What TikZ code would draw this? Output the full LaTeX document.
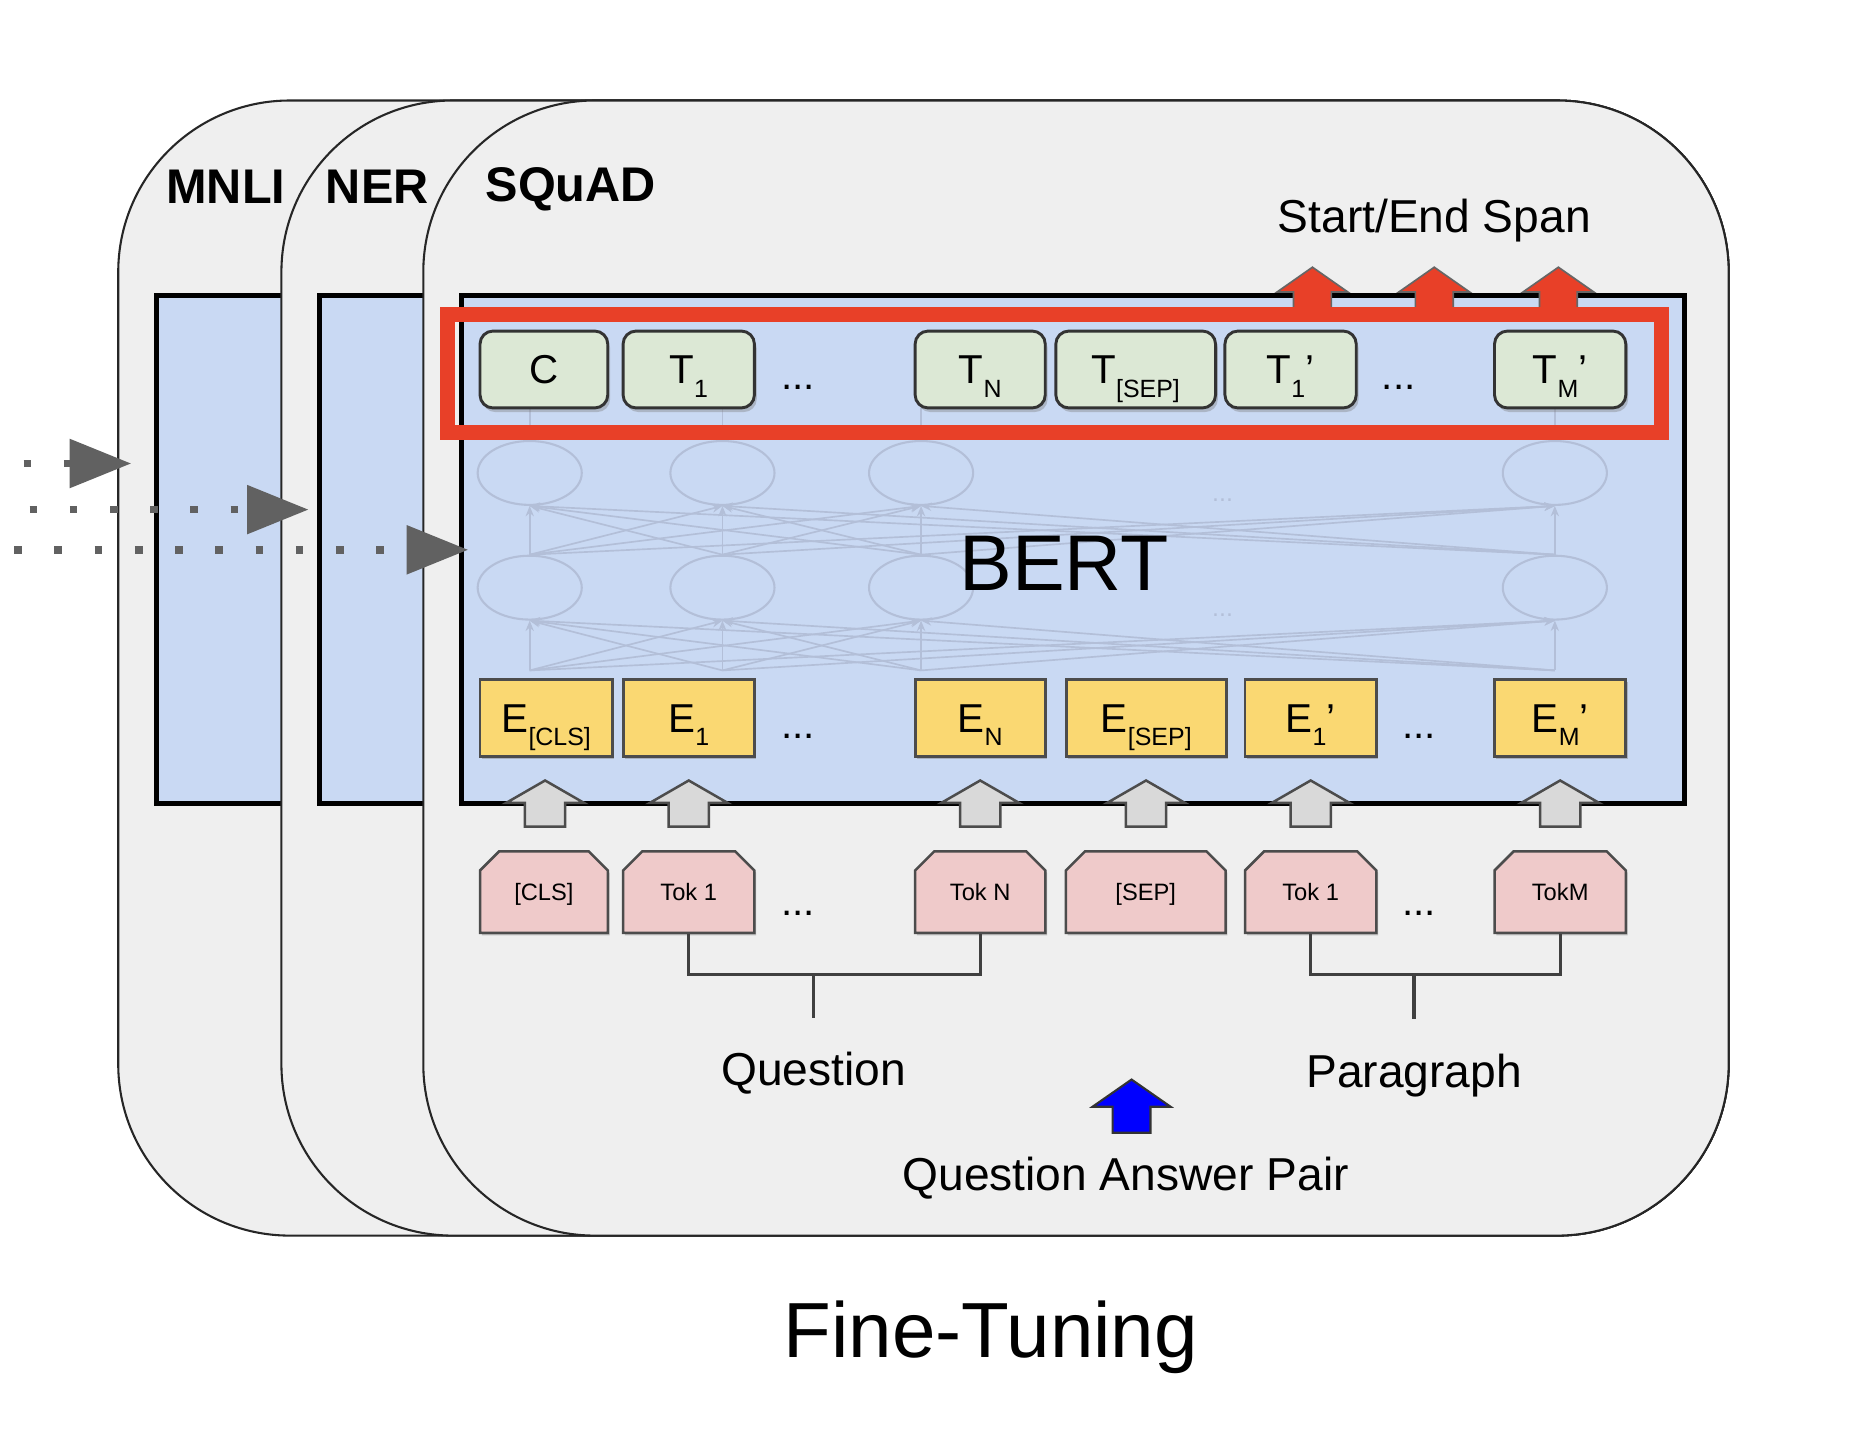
\documentclass[tikz,border=0pt]{standalone}
\usepackage{fontspec}
\setmainfont{Liberation Sans}
\usetikzlibrary{arrows.meta,shapes.misc,shapes.geometric,shadows,calc}

\definecolor{cardgray}{HTML}{EFEFEF}
\definecolor{panelblue}{HTML}{C9D9F3}
\definecolor{outgreen}{HTML}{DCE8D5}
\definecolor{embyellow}{HTML}{FAD872}
\definecolor{tokpink}{HTML}{EFCACA}
\definecolor{spanred}{HTML}{E84028}
\definecolor{faintnet}{HTML}{B3BFD8}

\newcommand{\lowsub}[1]{\raisebox{-0.33em}{\fontsize{6}{7}\selectfont #1}}

\begin{document}
\begin{tikzpicture}[x=0.01cm, y=-0.01cm,
    card/.style={draw=black!85, line width=0.5pt, fill=cardgray, rounded corners=1.45cm},
    panel/.style={draw=black, line width=1.2pt, fill=panelblue, anchor=north west, inner sep=0pt, minimum height=4.29cm},
    tasklabel/.style={anchor=base west, inner sep=0pt, font=\fontsize{11.7}{14}\selectfont\bfseries},
    caption/.style={anchor=base, inner sep=0pt, font=\fontsize{11.1}{13}\selectfont},
    outbox/.style={draw=black!80, line width=0.7pt, fill=outgreen, rounded corners=0.11cm, minimum height=0.65cm, inner sep=0pt, text height=6.9pt, text depth=0pt, font=\fontsize{9.7}{11}\selectfont, drop shadow={shadow xshift=0.02cm, shadow yshift=-0.035cm, opacity=0.4}},
    embbox/.style={draw=black!70, line width=0.7pt, fill=embyellow, minimum height=0.65cm, inner sep=0pt, text height=6.9pt, text depth=0pt, font=\fontsize{9.7}{11}\selectfont, drop shadow={shadow xshift=0.015cm, shadow yshift=-0.02cm, opacity=0.45}},
    tokbox/.style={chamfered rectangle, chamfered rectangle corners={north west,north east}, chamfered rectangle sep=0.09cm, draw=black!70, line width=0.6pt, fill=tokpink, minimum height=0.69cm, inner sep=0pt, text height=4.1pt, text depth=0pt, font=\fontsize{5.7}{7}\selectfont, drop shadow={shadow xshift=0.015cm, shadow yshift=-0.02cm, opacity=0.45}},
    dots/.style={anchor=base, inner sep=0pt, font=\fontsize{9.7}{11}\selectfont},
    neuron/.style={ellipse, draw=faintnet, line width=0.5pt, minimum width=0.88cm, minimum height=0.54cm, inner sep=0pt},
    netlink/.style={draw=faintnet, line width=0.4pt, -{Stealth[length=2.5pt,width=2pt]}},
    blockarrow/.style={draw=black!70, line width=0.6pt, fill=black!15},
    spanarrow/.style={draw=black!60, line width=0.4pt, fill=spanred},
    pairarrow/.style={draw=black!80, line width=0.5pt, fill=blue},
    bracket/.style={draw=black!75, line width=0.8pt},
    feed/.style={draw=black!62, line width=0.065cm, dash pattern=on 0.065cm off 0.275cm, -{Triangle[length=0.52cm,width=0.40cm]}}
  ]
  \fill[white] (0,0) rectangle (1568,1218);
  \useasboundingbox (0,0) rectangle (1568,1218);

  \draw[card] (100,85) rectangle (1462,1045);
  \node[tasklabel] (mnlilabel) at (140,172) {MNLI};
  \node[panel, minimum width=2.5cm] (mnli) at (130,248) {};
  \draw[card] (238,85) rectangle (1462,1045);
  \node[tasklabel] (nerlabel) at (275,172) {NER};
  \node[panel, minimum width=1.5cm] (ner) at (268,248) {};
  \draw[card] (358,85) rectangle (1462,1045);
  \node[tasklabel] (squadlabel) at (410,170) {SQuAD};
  \node[panel, minimum width=10.34cm] (bert) at (388,248) {};

  \foreach \x [count=\i] in {448,611,779,1315} {
    \node[neuron] (low\i) at (\x,497) {};
    \node[neuron] (up\i) at (\x,400) {};
    \coordinate (base\i) at (\x,567);
    \coordinate (top\i) at (\x,345);
  }
  \foreach \i in {1,...,4}
    \foreach \j in {1,...,4} {
      \draw[netlink] (base\i) -- (low\j.south);
      \draw[netlink] (low\i.north) -- (up\j.south);
    }
  \foreach \i in {1,...,4}
    \draw[faintnet, line width=0.4pt] (up\i.north) -- (top\i);
  \node[dots, text=faintnet, font=\fontsize{6}{7}\selectfont] (gapup) at (1034,424) {...};
  \node[dots, text=faintnet, font=\fontsize{6}{7}\selectfont] (gaplow) at (1034,521) {...};
  \node[anchor=base, inner sep=0pt, font=\fontsize{19}{22}\selectfont] (berttext) at (900,499) {BERT};

  \foreach \n/\x/\w/\t in {cls/460/1.08/C, 1/582.5/1.11/{T\lowsub{1}}, n/829/1.10/{T\lowsub{N}}, sep/960.5/1.35/{T\lowsub{[SEP]}}, p1/1091.5/1.11/{T\lowsub{1}'}, pm/1319.5/1.11/{T\lowsub{M}'}}
    \node[outbox, minimum width=\w cm] (out-\n) at (\x,312.5) {\t};
  \foreach \n/\x/\w/\t in {cls/462/1.12/{E\lowsub{[CLS]}}, 1/582.5/1.11/{E\lowsub{1}}, n/829/1.10/{E\lowsub{N}}, sep/969.5/1.35/{E\lowsub{[SEP]}}, p1/1108.5/1.11/{E\lowsub{1}'}, pm/1319.5/1.11/{E\lowsub{M}'}}
    \node[embbox, minimum width=\w cm] (emb-\n) at (\x,607.5) {\t};
  \node[dots] (outdots1) at (675,329) {...};
  \node[dots] (outdots2) at (1183,329) {...};
  \node[dots] (embdots1) at (675,625) {...};
  \node[dots] (embdots2) at (1200,625) {...};

  \foreach \x in {1110,1213,1318}
    \draw[spanarrow] (\x-16,270) -- (\x-16,247) -- (\x-30,247) -- (\x,226) -- (\x+30,247) -- (\x+16,247) -- (\x+16,270) -- cycle;
  \node[draw=spanred, line width=0.13cm, inner sep=0pt, minimum width=10.26cm, minimum height=1.0cm] (focus) at (892,316) {};
  \node[caption] (span) at (1213,197) {Start/End Span};

  \foreach \n/\x/\w/\t in {cls/460/1.08/{[CLS]}, 1/582.5/1.11/{Tok 1}, n/829/1.10/{Tok N}, sep/969/1.35/{[SEP]}, p1/1108.5/1.11/{Tok 1}, pm/1319.5/1.11/{TokM}}
    \node[tokbox, minimum width=\w cm] (tok-\n) at (\x,754.5) {\t};
  \node[dots] (tokdots1) at (675,774) {...};
  \node[dots] (tokdots2) at (1200,774) {...};

  \foreach \n in {cls,1,n,sep,p1,pm}
    \draw[blockarrow] ($(emb-\n.south)!0.5!(tok-\n.north)$) ++(-17,19) -- ++(0,-20) -- ++(-16,0) -- ++(33,-19) -- ++(33,19) -- ++(-16,0) -- ++(0,20) -- cycle;

  \coordinate (qjoin) at (688,824);
  \coordinate (qend) at (688,861);
  \coordinate (pjoin) at (1196,824);
  \coordinate (pend) at (1196,862);
  \draw[bracket] (tok-1.south) |- (qjoin) -| (tok-n.south);
  \draw[bracket] (qjoin) -- (qend);
  \draw[bracket] (tok-p1.south) |- (pjoin) -| (tok-pm.south);
  \draw[bracket] (pjoin) -- (pend);
  \node[caption] (question) at (688,918) {Question};
  \node[caption] (paragraph) at (1196,920) {Paragraph};

  \draw[pairarrow] (941,958) -- (941,936) -- (924,936) -- (957,913) -- (990,936) -- (973,936) -- (973,958) -- cycle;
  \node[caption] (pair) at (952,1007) {Question Answer Pair};

  \coordinate (feed1) at (20,392);
  \coordinate (feed2) at (25,431);
  \coordinate (feed3) at (12,465);
  \draw[feed, shorten >=0.19cm] (feed1) -- (feed1 -| mnli.west);
  \draw[feed, shorten >=0.07cm] (feed2) -- (feed2 -| ner.west);
  \draw[feed, shorten >=-0.08cm] (feed3) -- (feed3 -| bert.west);

  \node[anchor=base, inner sep=0pt, font=\fontsize{18.8}{22}\selectfont] (finetune) at (838,1148) {Fine-Tuning};
\end{tikzpicture}
\end{document}
